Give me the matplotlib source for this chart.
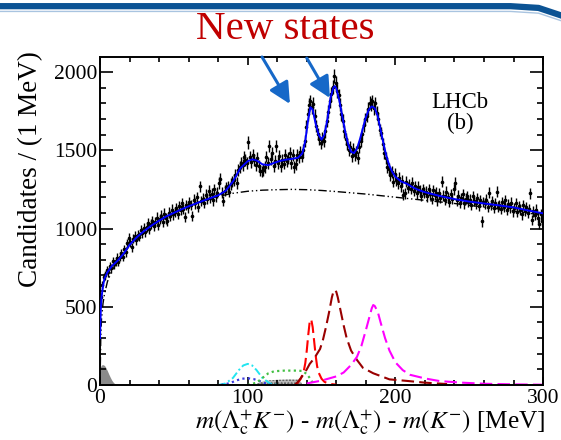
import numpy as np
import matplotlib
matplotlib.use('Agg')
import matplotlib.pyplot as plt
from matplotlib.lines import Line2D

# measured counts, 1 MeV bins from 0 to 300 MeV
counts = [
    560, 640, 690, 700, 735, 720, 760, 745, 790, 770,
    790, 812, 786, 820, 842, 818, 868, 850, 905, 940,
    912, 880, 935, 951, 925, 960, 948, 990, 970, 1002,
    978, 1010, 1035, 996, 1028, 1050, 1018, 1042, 1070, 1025,
    1060, 1083, 1040, 1095, 1064, 1050, 1102, 1078, 1120, 1090,
    1105, 1130, 1092, 1145, 1118, 1160, 1125, 1075, 1150, 1135,
    1170, 1150, 1082, 1185, 1160, 1200, 1140, 1270, 1175, 1190,
    1165, 1215, 1190, 1240, 1195, 1222, 1180, 1250, 1205, 1230,
    1290, 1318, 1228, 1175, 1240, 1262, 1270, 1235, 1285, 1300,
    1310, 1345, 1290, 1372, 1395, 1420, 1405, 1455, 1440, 1418,
    1550, 1460, 1425, 1470, 1438, 1405, 1452, 1398, 1370, 1365,
    1372, 1392, 1460, 1420, 1525, 1445, 1480, 1400, 1432, 1525,
    1420, 1465, 1398, 1440, 1415, 1470, 1430, 1452, 1485, 1420,
    1470, 1395, 1410, 1470, 1455, 1490, 1460, 1500, 1560, 1650,
    1730, 1790, 1812, 1775, 1795, 1720, 1655, 1605, 1570, 1548,
    1575, 1560, 1620, 1690, 1745, 1815, 1860, 1905, 1975, 1930,
    1880, 1850, 1790, 1730, 1690, 1620, 1570, 1540, 1500, 1520,
    1465, 1510, 1470, 1490, 1450, 1520, 1560, 1605, 1660, 1700,
    1720, 1765, 1805, 1790, 1812, 1770, 1800, 1740, 1700, 1630,
    1610, 1540, 1480, 1450, 1395, 1380, 1340, 1360, 1300, 1350,
    1310, 1290, 1325, 1270, 1305, 1215, 1225, 1300, 1260, 1280,
    1255, 1290, 1240, 1270, 1225, 1265, 1240, 1210, 1250, 1230,
    1235, 1205, 1250, 1220, 1190, 1245, 1215, 1230, 1180, 1225,
    1195, 1300, 1210, 1185, 1235, 1200, 1170, 1220, 1190, 1250,
    1290, 1180, 1210, 1165, 1195, 1220, 1160, 1190, 1205, 1170,
    1185, 1150, 1205, 1175, 1160, 1195, 1145, 1180, 1045, 1170,
    1160, 1185, 1140, 1230, 1150, 1175, 1130, 1160, 1235, 1140,
    1150, 1125, 1170, 1140, 1180, 1120, 1155, 1135, 1165, 1110,
    1130, 1160, 1105, 1145, 1120, 1090, 1150, 1115, 1135, 1100,
    1125, 1225, 1055, 1110, 1085, 1120, 1070, 1030, 1090, 1050,
]

# total fit
fit_x = [0, 0.5, 1, 2, 3, 5, 8, 12, 16, 20, 25, 30, 35, 40, 45, 50, 55, 60, 65,
         70, 75, 80, 85, 90, 95, 100, 103, 106, 110, 114, 118, 122, 126, 130,
         134, 137, 139, 141, 142.5, 144, 146, 148, 150, 152, 154, 156, 158, 159,
         160, 162, 164, 166, 168, 170, 172, 174, 176, 178, 180, 182, 184, 186,
         188, 190, 192, 194, 196, 198, 200, 204, 208, 212, 216, 220, 230, 240,
         250, 260, 270, 280, 290, 300]
fit_y = [300, 480, 560, 630, 680, 720, 760, 795, 840, 895, 945, 985, 1020, 1050,
         1078, 1100, 1122, 1142, 1160, 1178, 1195, 1212, 1240, 1300, 1385, 1430,
         1442, 1435, 1410, 1405, 1420, 1432, 1440, 1445, 1452, 1480, 1560, 1700,
         1775, 1760, 1670, 1600, 1568, 1600, 1700, 1830, 1900, 1910, 1895, 1820,
         1720, 1620, 1540, 1490, 1482, 1510, 1570, 1640, 1710, 1760, 1780, 1770,
         1720, 1630, 1540, 1460, 1400, 1360, 1330, 1300, 1285, 1262, 1245, 1232,
         1208, 1188, 1172, 1160, 1148, 1135, 1115, 1097]

# combinatorial background
bkg_x = [0, 0.5, 1, 2, 3, 5, 8, 12, 20, 30, 40, 50, 60, 70, 80, 90, 100, 110,
         120, 130, 140, 150, 160, 170, 180, 190, 200, 210, 220, 230, 240, 250,
         260, 270, 280, 290, 300]
bkg_y = [0, 300, 420, 520, 580, 660, 730, 790, 890, 980, 1050, 1100, 1145, 1180,
         1205, 1225, 1238, 1245, 1248, 1250, 1248, 1243, 1236, 1228, 1220, 1210,
         1200, 1190, 1180, 1170, 1160, 1148, 1137, 1125, 1112, 1098, 1085]

# signal components
red_x = [132, 134, 136, 138, 139, 140, 141, 142, 143, 144, 145, 146, 147, 148,
         150, 152, 155, 160]
red_y = [0, 15, 40, 90, 140, 220, 320, 405, 420, 370, 280, 190, 120, 80, 40, 20,
         8, 2]

dred_x = [132, 134, 136, 138, 140, 142, 145, 149, 151, 153, 155, 157, 158, 159,
          160, 161, 163, 165, 167, 170, 174, 178, 185, 196, 208, 220, 235]
dred_y = [0, 20, 45, 70, 100, 135, 170, 230, 290, 370, 460, 560, 595, 607, 595,
          560, 470, 380, 300, 220, 160, 110, 75, 36, 26, 15, 6]

mag_x = [140, 150, 160, 165, 170, 174, 177, 180, 182, 184, 185, 186, 188, 190,
         193, 196, 200, 205, 210, 220, 230, 245, 260, 280, 300]
mag_y = [10, 28, 55, 80, 128, 180, 250, 350, 420, 490, 511, 505, 470, 400, 300,
         220, 145, 95, 65, 42, 25, 15, 8, 4, 2]

cyan_x = [80, 85, 90, 94, 97, 100, 103, 106, 110, 115, 120]
cyan_y = [0, 10, 45, 95, 125, 135, 125, 95, 45, 10, 0]

bdot_x = [82, 88, 92, 96, 100, 104, 108, 112, 116]
bdot_y = [0, 12, 28, 40, 43, 38, 25, 10, 0]

green_x = [100, 106, 110, 114, 118, 125, 132, 137, 140, 142, 144, 145]
green_y = [0, 15, 45, 75, 88, 92, 92, 90, 70, 45, 15, 0]

hatch_x = [104, 108, 112, 120, 128, 134, 136, 137]
hatch_y = [0, 15, 28, 33, 35, 34, 20, 0]

low_x = [0, 1, 2, 3, 4, 5, 6, 7, 8, 9, 10, 11, 12]
low_y = [110, 128, 130, 125, 110, 90, 68, 48, 30, 17, 8, 3, 0]


def main():
    plt.rcParams['font.family'] = ['Liberation Serif', 'DejaVu Serif']
    plt.rcParams['mathtext.fontset'] = 'stix'

    fig = plt.figure(figsize=(5.61, 4.40), dpi=100)
    ax = fig.add_axes([0.1783, 0.125, 0.968 - 0.1783, 0.8705 - 0.125])

    # slide header bar
    fig.add_artist(Line2D([0, 0.91, 0.96, 1.0], [0.986, 0.986, 0.982, 0.965],
                          transform=fig.transFigure, color='#0b5394', lw=4.5))
    fig.add_artist(Line2D([0, 0.91, 0.96, 1.0], [0.974, 0.974, 0.970, 0.953],
                          transform=fig.transFigure, color='#a9c4e0', lw=1.0))
    fig.text(0.508, 0.934, 'New states', color='#c00000', fontsize=29.5,
             ha='center', va='center')

    ax.fill_between(low_x, low_y, color='#8a8a8a', lw=0)
    ax.fill_between(hatch_x, hatch_y, facecolor='#bbbbbb', edgecolor='#555555',
                    hatch='.....', lw=0)
    ax.plot(bkg_x, bkg_y, color='k', lw=1.0, ls=(0, (6, 2, 1, 2, 1, 2)))
    ax.plot(cyan_x, cyan_y, color='#22e5f0', lw=1.4, ls=(0, (4, 1.5, 1, 1.5)))
    ax.plot(bdot_x, bdot_y, color='#3a3ae0', lw=1.6, ls=(0, (1, 1.5)))
    ax.plot(green_x, green_y, color='#44c044', lw=1.6, ls=(0, (1, 1.5)))
    ax.plot(red_x, red_y, color='#ff0000', lw=1.5, ls=(0, (6, 2.5)))
    ax.plot(dred_x, dred_y, color='#990000', lw=1.5, ls=(0, (6, 2.5)))
    ax.plot(mag_x, mag_y, color='#ff00ff', lw=1.5, ls=(0, (6, 2.5)))

    centers = np.arange(len(counts)) + 0.5
    cts = np.array(counts, dtype=float)
    ax.errorbar(centers, cts, yerr=np.sqrt(cts), xerr=0.5, fmt='o', ms=1.6,
                color='k', ecolor='k', elinewidth=1.0, capsize=0, zorder=3)
    ax.plot(fit_x, fit_y, color='#0000ff', lw=1.4, zorder=4)

    # arrows pointing to the new states
    arrow = dict(arrowstyle='-|>,head_length=0.8,head_width=0.4',
                 mutation_scale=16, color='#1668c8', lw=2.2,
                 shrinkA=0, shrinkB=0)
    ax.annotate('', xy=(128.6, 1796), xytext=(109.7, 2096), arrowprops=arrow,
                annotation_clip=False, zorder=6)
    ax.annotate('', xy=(155.7, 1834), xytext=(140.0, 2089), arrowprops=arrow,
                annotation_clip=False, zorder=6)

    ax.text(243.7, 1802, 'LHCb', fontsize=16.5, ha='center', va='center')
    ax.text(243.7, 1674, '(b)', fontsize=16.5, ha='center', va='center')

    ax.set_xlim(0, 300)
    ax.set_ylim(0, 2096)
    ax.set_xticks([0, 100, 200, 300])
    ax.set_xticks(np.arange(0, 301, 20), minor=True)
    ax.set_yticks([0, 500, 1000, 1500, 2000])
    ax.set_yticks(np.arange(0, 2001, 100), minor=True)
    ax.tick_params(which='both', direction='in', top=True, right=True,
                   labelsize=15.5, width=1.2)
    ax.tick_params(axis='y', which='major', length=9.5, pad=2)
    ax.tick_params(axis='y', which='minor', length=4.5)
    ax.tick_params(axis='x', which='major', length=6, pad=3)
    ax.tick_params(axis='x', which='minor', length=3.5)
    for s in ax.spines.values():
        s.set_linewidth(1.4)

    ax.set_ylabel('Candidates / (1 MeV)', fontsize=19.5, loc='top', labelpad=4)
    ax.yaxis.set_label_coords(-0.128, 1.018)
    ax.set_xlabel(r'$m(\mathit{\Lambda}_{\rm c}^{+}K^{-})$ - '
                  r'$m(\mathit{\Lambda}_{\rm c}^{+})$ - $m(K^{-})$ [MeV]',
                  fontsize=18.2, loc='right', labelpad=0)
    ax.xaxis.set_label_coords(1.005, -0.066)

    fig.savefig('out.png', dpi=100)


if __name__ == '__main__':
    main()
